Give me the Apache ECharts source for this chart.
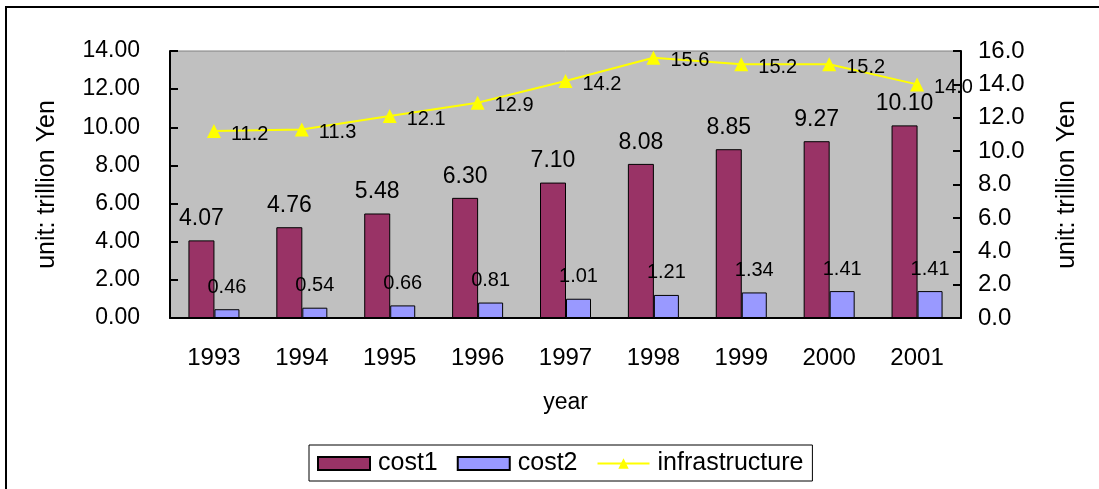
<!DOCTYPE html>
<html>
<head>
<meta charset="utf-8">
<script src="https://cdn.jsdelivr.net/npm/echarts@6/dist/echarts.min.js"></script>
<style>
  html, body { margin: 0; padding: 0; background: #fff; }
  #chart { width: 1099px; height: 489px; }
</style>
</head>
<body>
<div id="chart"></div>
<script>
// data
const years = ['1993', '1994', '1995', '1996', '1997', '1998', '1999', '2000', '2001']
const cost1 = [4.07, 4.76, 5.48, 6.30, 7.10, 8.08, 8.85, 9.27, 10.10]
const cost2 = [0.46, 0.54, 0.66, 0.81, 1.01, 1.21, 1.34, 1.41, 1.41]
const infrastructure = [11.2, 11.3, 12.1, 12.9, 14.2, 15.6, 15.2, 15.2, 14.0]

const FONT = '"Liberation Sans", Arial, sans-serif'

const chart = echarts.init(document.getElementById('chart'), null, { renderer: 'canvas' })

chart.setOption({
  backgroundColor: '#fff',
  animation: false,
  textStyle: { fontFamily: FONT, color: '#000' },
  graphic: [{
    type: 'rect',
    shape: { x: 6, y: 7, width: 1200, height: 600 },
    style: { fill: 'none', stroke: '#000', lineWidth: 2 },
    silent: true
  }],
  grid: {
    left: 170, right: 138, top: 51, bottom: 171,
    show: true,
    backgroundColor: '#c0c0c0',
    borderColor: '#808080',
    borderWidth: 1
  },
  legend: {
    left: 309, top: 445,
    itemWidth: 52, itemHeight: 13,
    itemGap: 19,
    padding: [6, 9, 5, 8],
    borderColor: '#000', borderWidth: 1,
    textStyle: { fontSize: 25, fontFamily: FONT, color: '#000', padding: [0, 0, 0, 3] },
    data: [
      { name: 'cost1', icon: 'rect' },
      { name: 'cost2', icon: 'rect' },
      { name: 'infrastructure' }
    ]
  },
  xAxis: {
    type: 'category',
    data: years,
    name: 'year',
    nameLocation: 'middle',
    nameGap: 73,
    nameTextStyle: { fontSize: 23, fontFamily: FONT, color: '#000' },
    axisLine: { lineStyle: { color: '#000', width: 2 } },
    axisTick: { inside: true, length: 6, lineStyle: { color: '#000', width: 2 } },
    axisLabel: { fontSize: 24, fontFamily: FONT, color: '#000', margin: 28 },
    splitLine: { show: false }
  },
  yAxis: [{
    type: 'value',
    min: 0, max: 14, interval: 2,
    name: 'unit: trillion Yen',
    nameLocation: 'middle',
    nameRotate: 90,
    nameGap: 110,
    nameTextStyle: { fontSize: 25, fontFamily: FONT, color: '#000' },
    axisLine: { show: true, lineStyle: { color: '#000', width: 2 } },
    axisTick: { show: true, inside: true, length: 8, lineStyle: { color: '#000', width: 2 } },
    axisLabel: { fontSize: 23, fontFamily: FONT, color: '#000', margin: 30,
      formatter: v => v.toFixed(2) },
    splitLine: { show: false }
  }, {
    type: 'value',
    min: 0, max: 16, interval: 2,
    name: 'unit: trillion Yen',
    nameLocation: 'middle',
    nameRotate: 90,
    nameGap: 94,
    nameTextStyle: { fontSize: 25, fontFamily: FONT, color: '#000' },
    axisLine: { show: true, lineStyle: { color: '#000', width: 2 } },
    axisTick: { show: true, inside: true, length: 8, lineStyle: { color: '#000', width: 2 } },
    axisLabel: { fontSize: 24, fontFamily: FONT, color: '#000', margin: 17,
      formatter: v => v.toFixed(1) },
    splitLine: { show: false }
  }],
  series: [{
    name: 'cost1',
    type: 'bar',
    data: cost1,
    barWidth: 26,
    barGap: '0%',
    itemStyle: { color: '#993366', borderColor: '#000', borderWidth: 1 },
    label: { show: true, position: 'top', distance: 10, fontSize: 23, fontFamily: FONT, color: '#000',
      formatter: p => p.value.toFixed(2) }
  }, {
    name: 'cost2',
    type: 'bar',
    data: cost2,
    barWidth: 25,
    itemStyle: { color: '#9999ff', borderColor: '#000', borderWidth: 1 },
    label: { show: true, position: 'top', distance: 12, fontSize: 20, fontFamily: FONT, color: '#000',
      formatter: p => p.value.toFixed(2) }
  }, {
    name: 'infrastructure',
    type: 'line',
    yAxisIndex: 1,
    data: infrastructure,
    symbol: 'triangle',
    symbolSize: 14,
    lineStyle: { color: '#ffff00', width: 2 },
    itemStyle: { color: '#ffff00' },
    label: { show: true, position: 'right', distance: 10, offset: [0, 3], fontSize: 20, fontFamily: FONT, color: '#000',
      formatter: p => p.value.toFixed(1) }
  }]
})
</script>
</body>
</html>
